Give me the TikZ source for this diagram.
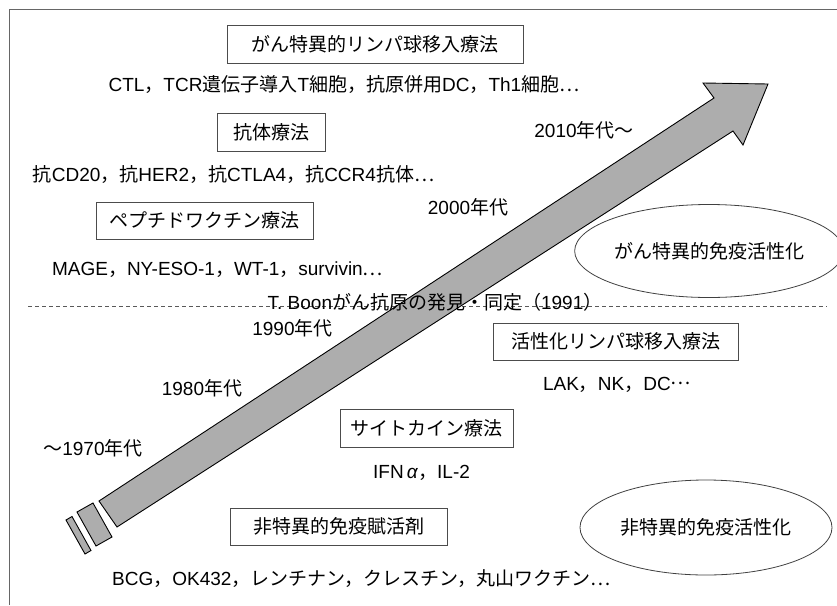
\documentclass[tikz,border=0pt]{standalone}
\usepackage{fontspec}
\setmainfont{Liberation Sans}
\newfontfamily\jp{Noto Sans CJK JP}
\newcommand{\jt}[1]{{\jp #1}}
\usetikzlibrary{shapes.geometric}
\begin{document}
\begin{tikzpicture}[x=1pt,y=-1pt,
  every node/.style={font=\fontsize{19}{22}\selectfont, inner sep=0pt, text=black},
  boxlabel/.style={draw=black!70, line width=0.9pt, minimum height=38pt, align=center},
  ovallabel/.style={ellipse, draw=black!75, line width=0.8pt, minimum width=252pt, minimum height=93pt},
  plainlabel/.style={},
  arrowbody/.style={fill=black!32, draw=black, line width=0.9pt, line join=miter},
  divider/.style={draw=black!65, line width=0.8pt, dash pattern=on 4pt off 3pt},
  framing/.style={draw=black!60, line width=0.9pt}
]
\useasboundingbox (0,0) rectangle (837,605);
% frame
\coordinate (fa) at (9,605);
\coordinate (fb) at (9,9);
\coordinate (fc) at (837,9);
\draw[framing] (fa) -- (fb) -- (fc);
% divider
\coordinate (dl) at (28,306);
\coordinate (dr) at (827,306);
\draw[divider] (dl) -- (dr);
% arrow
\draw[arrowbody] (99,501) -- (714,98) -- (703,83) -- (768,84) -- (743,145) -- (733,131) -- (117,527) -- cycle;
\draw[arrowbody] (77,512) -- (93,503) -- (112,537) -- (96,546) -- cycle;
\draw[arrowbody] (66,520) -- (72,516.5) -- (91,550.5) -- (85,554) -- cycle;
% upper part
\node[boxlabel, minimum width=296pt] (b1) at (375,44) {\jt{がん特異的リンパ球移入療法}};
\node[plainlabel] (t1) at (344,85) {CTL\jt{，}TCR\jt{遺伝子導入}T\jt{細胞，抗原併用}DC\jt{，}Th1\jt{細胞…}};
\node[boxlabel, minimum width=108pt] (b2) at (271,132) {\jt{抗体療法}};
\node[plainlabel] (t2) at (233.5,175) {\jt{抗}CD20\jt{，抗}HER2\jt{，抗}CTLA4\jt{，抗}CCR4\jt{抗体…}};
\node[plainlabel] (y2010) at (584,130) {2010\jt{年代〜}};
\node[boxlabel, minimum width=217pt, minimum height=37pt] (b3) at (204.5,220.5) {\jt{ペプチドワクチン療法}};
\node[plainlabel] (t3) at (217.5,270) {MAGE\jt{，}NY-ESO-1\jt{，}WT-1\jt{，}survivin\jt{…}};
\node[plainlabel] (y2000) at (468,207) {2000\jt{年代}};
\node[ovallabel] (e1) at (709,251) {\jt{がん特異的免疫活性化}};
\node[plainlabel] (boon) at (435,302) {T. Boon\jt{がん抗原の発見・同定（}1991\jt{）}};
% lower part
\node[plainlabel] (y1990) at (292.5,328) {1990\jt{年代}};
\node[boxlabel, minimum width=245pt, minimum height=37pt] (b4) at (615.5,341.5) {\jt{活性化リンパ球移入療法}};
\node[plainlabel] (t4) at (617,385) {LAK\jt{，}NK\jt{，}DC\raisebox{0.3em}{\jt{…}}};
\node[plainlabel] (y1980) at (202,388) {1980\jt{年代}};
\node[plainlabel] (y1970) at (93,448) {\jt{〜}1970\jt{年代}};
\node[boxlabel, minimum width=173pt] (b5) at (426.5,428) {\jt{サイトカイン療法}};
\node[plainlabel] (t5) at (421.5,473) {IFN\,\textit{α}\jt{，}IL-2};
\node[boxlabel, minimum width=217pt, minimum height=37pt] (b6) at (338.5,526.5) {\jt{非特異的免疫賦活剤}};
\node[plainlabel] (t6) at (361.5,579) {BCG\jt{，}OK432\jt{，レンチナン，クレスチン，丸山ワクチン…}};
\node[ovallabel, minimum height=95pt] (e2) at (706,527.5) {\jt{非特異的免疫活性化}};
\end{tikzpicture}
\end{document}
